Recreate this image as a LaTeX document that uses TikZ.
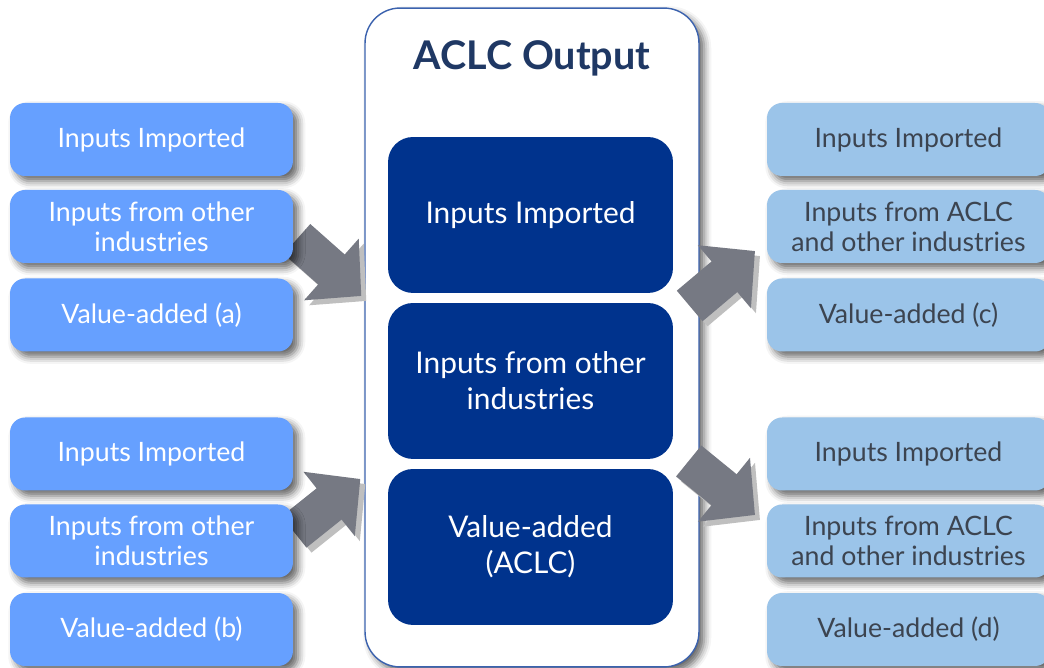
\documentclass[tikz,border=0pt]{standalone}
\usepackage{fontspec}
\setmainfont{Lato}
\usetikzlibrary{arrows.meta,shadows.blur}

\definecolor{srcblue}{HTML}{66A0FF}
\definecolor{useblue}{HTML}{9BC4E9}
\definecolor{aclcnavy}{HTML}{00338D}
\definecolor{titlenavy}{HTML}{1F3864}
\definecolor{rimblue}{HTML}{3B62AE}
\definecolor{flowgray}{HTML}{767983}
\definecolor{usetext}{HTML}{3C4450}

\tikzset{
  boxshade/.style={blur shadow={shadow xshift=3pt,shadow yshift=-3pt,
      shadow blur radius=4pt,shadow opacity=60}},
  sidebox/.style={boxshade,rounded corners=0.3cm,minimum width=5.66cm,
      minimum height=1.46cm,inner sep=0pt,align=center,
      font=\fontsize{15.2}{17}\selectfont},
  srcbox/.style={sidebox,fill=srcblue,text=white},
  usebox/.style={sidebox,fill=useblue,text=usetext},
  partbox/.style={rounded corners=0.5cm,fill=aclcnavy,text=white,
      minimum width=5.7cm,minimum height=3.12cm,inner sep=0pt,align=center,
      font=\fontsize{17}{20.5}\selectfont},
  flow/.style={draw=flowgray,line width=0.8cm,
      -{Triangle[length=0.8cm,width=1.6cm]}},
  flowshade/.style={flow,draw=black!25,fill=black!25}
}

\begin{document}
\begin{tikzpicture}[x=0.02cm,y=0.02cm]
  \useasboundingbox (0,0) rectangle (1044,668);

  % ACLC column
  \node[boxshade,draw=rimblue,line width=0.8pt,fill=white,rounded corners=0.7cm,
        minimum width=6.68cm,minimum height=13.18cm] (ACLC) at (532,330.5) {};
  \node[font=\fontsize{22.5}{27}\selectfont\bfseries,text=titlenavy] (T) at (532,610) {ACLC Output};
  \node[partbox] (I) at (530.5,453) {Inputs Imported};
  \node[partbox] (O) at (530.5,287) {Inputs from other\\industries};
  \node[partbox] (V) at (530.5,121) {Value-added\\(ACLC)};

  % left / right groups, needed for the flow ends
  \path (151.5,441.5) coordinate (OA) (151.5,127) coordinate (OB)
        (908.5,441.5) coordinate (OC) (908.5,127) coordinate (OD);

  % block arrows in and out
  \coordinate (a1) at ([shift={(145.5,-12.5)}]OA);
  \coordinate (a2) at ([shift={(-3,41.5)}]ACLC.west);
  \coordinate (b1) at ([shift={(142.5,9)}]OB);
  \coordinate (b2) at ([shift={(-4,-141.5)}]ACLC.west);
  \coordinate (c1) at ([shift={(-10,31.5)}]ACLC.east);
  \coordinate (c2) at ([shift={(-153.5,-24.5)}]OC);
  \coordinate (d1) at ([shift={(-11,-123.5)}]ACLC.east);
  \coordinate (d2) at ([shift={(-153.5,26)}]OD);
  \foreach \t/\h in {a1/a2,b1/b2,c1/c2,d1/d2} {
    \draw[flowshade] ([shift={(5,-5)}]\t) -- ([shift={(5,-5)}]\h);
    \draw[flow] (\t) -- (\h);
  }

  % sources, period (a)
  \node[srcbox] (IA) at (151.5,528.5) {Inputs Imported};
  \node[srcbox] (OA) at (151.5,441.5) {Inputs from other\\industries};
  \node[srcbox] (VA) at (151.5,353) {Value-added (a)};
  % sources, period (b)
  \node[srcbox] (IB) at (151.5,214) {Inputs Imported};
  \node[srcbox] (OB) at (151.5,127) {Inputs from other\\industries};
  \node[srcbox] (VB) at (151.5,38.5) {Value-added (b)};
  % users, (c)
  \node[usebox] (IC) at (908.5,528.5) {Inputs Imported};
  \node[usebox] (OC) at (908.5,441.5) {Inputs from ACLC\\and other industries};
  \node[usebox] (VC) at (908.5,353) {Value-added (c)};
  % users, (d)
  \node[usebox] (ID) at (908.5,214) {Inputs Imported};
  \node[usebox] (OD) at (908.5,127) {Inputs from ACLC\\and other industries};
  \node[usebox] (VD) at (908.5,38.5) {Value-added (d)};
\end{tikzpicture}
\end{document}
